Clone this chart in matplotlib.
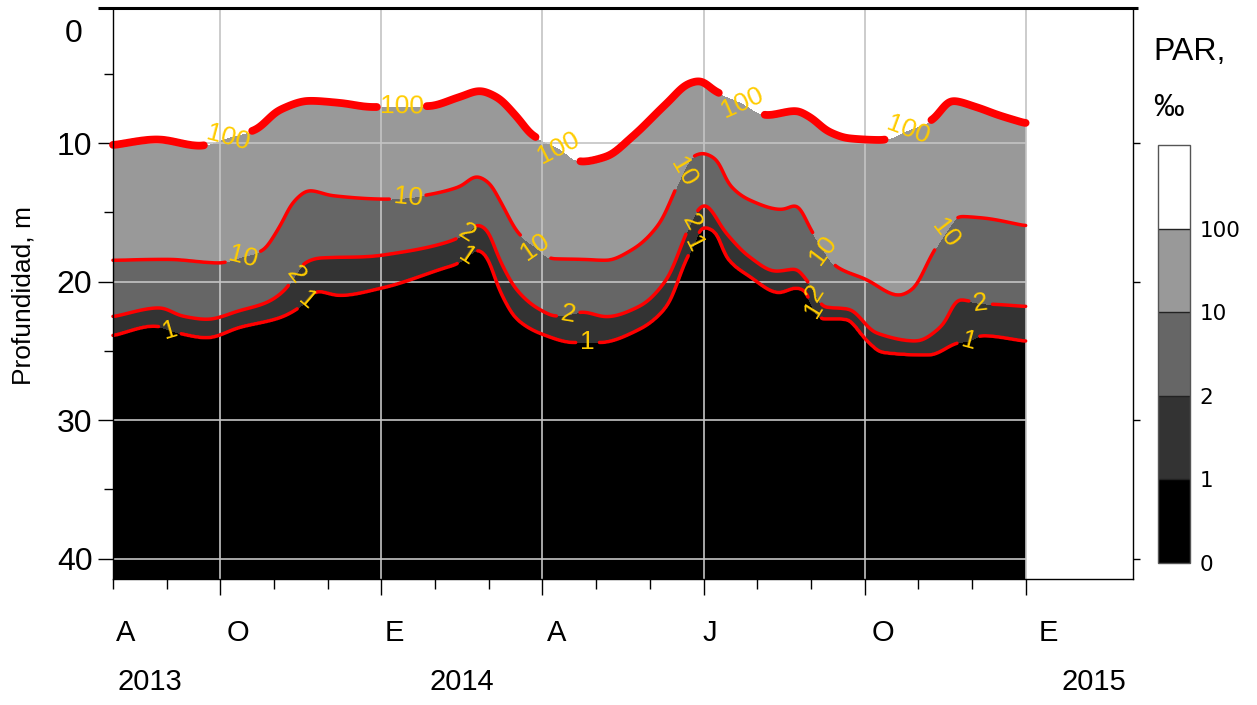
import numpy as np
import matplotlib
matplotlib.use("Agg")
import matplotlib.pyplot as plt

plt.rcParams["font.family"] = ["Liberation Sans", "DejaVu Sans"]

# Depth (m) of the relative-PAR isolines; time in months since 1 Aug 2013
iso100_t = [0.0, 0.82, 1.62, 2.14, 2.64, 3.11, 3.66, 4.22, 4.84, 5.38, 5.86, 6.46,
            6.83, 7.14, 7.52, 7.81, 8.30, 8.72, 9.19, 9.67, 10.31, 10.73, 10.92,
            11.24, 11.72, 12.17, 12.72, 12.97, 13.34, 13.71, 14.32, 14.81, 15.25,
            15.63, 16.07, 16.50, 17.0]
iso100_z = [10.15, 9.74, 10.2, 9.6, 9.06, 7.6, 6.95, 7.1, 7.4, 7.35, 7.34, 6.67,
            6.24, 6.67, 8.1, 9.42, 10.35, 11.35, 10.98, 9.55, 7.15, 5.7, 5.52,
            6.3, 7.1, 7.99, 7.68, 8.1, 9.19, 9.66, 9.78, 9.06, 8.35,
            6.95, 7.39, 7.99, 8.58]

iso10_t = [0.0, 1.00, 1.99, 2.42, 2.77, 3.11, 3.35, 3.66, 4.09, 5.10, 5.49, 5.86,
           6.46, 6.77, 7.01, 7.20, 7.57, 7.87, 8.17, 8.74, 9.19, 9.67, 10.18,
           10.45, 10.62, 10.79, 10.98, 11.24, 11.48, 11.85, 12.46, 12.72, 13.02,
           13.23, 13.43, 14.03, 14.64, 14.88, 15.29, 15.51, 15.76, 16.18, 17.0]
iso10_z = [18.47, 18.4, 18.66, 18.2, 17.8, 16.0, 14.3, 13.43, 13.8, 14.05, 13.95, 13.74,
           13.14, 12.42, 12.9, 14.1, 16.6, 17.5, 18.35, 18.4, 18.47, 17.7, 15.8,
           13.6, 12.1, 11.0, 10.74, 11.2, 13.0, 14.1, 14.8, 14.5, 16.4,
           17.7, 18.8, 19.86, 21.0, 20.6, 17.8, 16.5, 15.3, 15.4, 15.97]

iso2_t = [0.0, 0.87, 1.30, 1.75, 2.36, 2.87, 3.24, 3.40, 3.57, 3.85, 4.73, 5.34,
          6.27, 6.59, 6.79, 6.96, 7.20, 7.52, 7.94, 8.26, 8.48, 8.74, 9.19, 9.80,
          10.31, 10.68, 10.77, 10.92, 11.01, 11.42, 11.85, 12.35, 12.72, 12.91,
          13.08, 13.21, 13.71, 14.21, 14.96, 15.44, 15.76, 15.94, 16.16, 16.44, 17.0]
iso2_z = [22.54, 21.9, 22.5, 22.73, 22.1, 21.5, 20.45, 19.5, 18.66, 18.3, 18.2, 17.9,
          17.1, 16.5, 15.9, 16.26, 18.4, 20.6, 22.0, 22.5, 22.4, 22.2, 22.54, 21.8,
          19.86, 16.5, 15.7, 14.7, 14.46, 16.5, 18.2, 19.26, 19.1, 19.86,
          20.8, 21.8, 22.0, 23.7, 24.3, 23.2, 21.3, 21.4, 21.6, 21.65, 21.8]

iso1_t = [0.0, 0.78, 1.06, 1.25, 1.75, 2.36, 3.11, 3.42, 3.61, 3.80, 4.22, 5.02,
          6.27, 6.36, 6.60, 6.79, 6.96, 7.20, 7.52, 8.00, 8.59, 8.84, 9.06, 9.80,
          10.31, 10.70, 10.83, 10.92, 11.01, 11.24, 11.42, 11.85, 12.41, 12.72,
          12.91, 13.04, 13.21, 13.65, 14.03, 14.32, 15.20, 15.76, 15.94, 16.18, 17.0]
iso1_z = [23.9, 23.2, 23.5, 23.74, 24.05, 23.3, 22.6, 22.0, 21.4, 20.7, 21.0, 20.45,
          18.9, 18.8, 18.2, 17.7, 18.2, 20.6, 22.7, 23.8, 24.4, 24.4, 24.4, 23.45,
          21.8, 18.2, 17.3, 16.26, 16.07, 16.5, 18.2, 19.6, 20.8, 20.45,
          20.7, 22.0, 22.7, 22.7, 24.2, 25.1, 25.3, 24.4, 24.3, 23.9, 24.3]

# PAR levels (per mille) and their fill colours
levels = [0, 1, 2, 10, 100, 1000]
fill_colors = ["#000000", "#333333", "#666666", "#999999", "#ffffff"]

# Contour-label anchor points (month, depth) for each isoline
lab100 = [(2.14, 9.6), (5.38, 7.35), (8.30, 10.35), (11.72, 7.1), (14.81, 9.06)]
lab10 = [(2.42, 18.2), (5.49, 13.95), (7.87, 17.5), (10.62, 12.1), (13.23, 17.7), (15.51, 16.5)]
lab2 = [(3.40, 19.5), (6.59, 16.5), (8.48, 22.4), (10.77, 15.7), (13.08, 20.8), (16.16, 21.6)]
lab1 = [(1.06, 23.5), (3.61, 21.4), (6.60, 18.2), (8.84, 24.4), (10.83, 17.3), (13.04, 22.0), (15.94, 24.3)]

month_names = ["A", "O", "E", "A", "J", "O", "E"]
month_pos = [0.24, 2.33, 5.25, 8.26, 11.12, 14.34, 17.43]
year_names = ["2013", "2014", "2015"]
year_pos = [0.69, 6.49, 18.27]

# ---- build the PAR field on a regular time/depth grid ----
t = np.linspace(0, 17, 1361)
z = np.linspace(0, 42, 841)


def pchip(x, y, xn):
    """Monotone piecewise-cubic Hermite curve through (x, y)."""
    x = np.asarray(x, float)
    y = np.asarray(y, float)
    h = np.diff(x)
    d = np.diff(y) / h
    m = np.zeros_like(y)
    for i in range(1, len(y) - 1):
        if d[i - 1] * d[i] > 0:
            w1 = 2 * h[i] + h[i - 1]
            w2 = h[i] + 2 * h[i - 1]
            m[i] = (w1 + w2) / (w1 / d[i - 1] + w2 / d[i])
    m[0], m[-1] = d[0], d[-1]
    idx = np.clip(np.searchsorted(x, xn) - 1, 0, len(h) - 1)
    s = (xn - x[idx]) / h[idx]
    h00 = 2 * s**3 - 3 * s**2 + 1
    h10 = s**3 - 2 * s**2 + s
    h01 = -2 * s**3 + 3 * s**2
    h11 = s**3 - s**2
    return (h00 * y[idx] + h10 * h[idx] * m[idx]
            + h01 * y[idx + 1] + h11 * h[idx] * m[idx + 1])


def track(tt, zz):
    d = pchip(tt, zz, t)
    k = np.ones(11) / 11
    for _ in range(2):
        d = np.convolve(np.pad(d, 5, mode="edge"), k, mode="valid")
    return d


d100 = track(iso100_t, iso100_z)
d10 = track(iso10_t, iso10_z)
d2 = track(iso2_t, iso2_z)
d1 = track(iso1_t, iso1_z)

logpar = np.empty((z.size, t.size))
for j in range(t.size):
    logpar[:, j] = np.interp(z, [0.0, d100[j], d10[j], d2[j], d1[j], 42.0],
                             [2.9, 2.0, 1.0, np.log10(2.0), 0.0, -1.0])
par = 10 ** logpar
T, Z = np.meshgrid(t, z)

# ---- figure ----
W, H = 1257, 705
fig = plt.figure(figsize=(W / 100, H / 100), dpi=100)
ax = fig.add_axes([113 / W, 1 - 579.3 / H, 1020 / W, 571 / H])

cf = ax.contourf(T, Z, par, levels=levels, colors=fill_colors, zorder=1)

grid_c = "#c4c4c4"
ax.vlines([2, 5, 8, 11, 14, 17], 0.0, 41.5, color=grid_c, lw=1.2, zorder=2)
ax.hlines([10, 20, 30, 40], 0, 17, color=grid_c, lw=1.2, zorder=2)

gold = "#FFCC00"
for lev, lw, pts in [(100, 5.6, lab100), (10, 2.5, lab10), (2, 2.5, lab2), (1, 2.5, lab1)]:
    cs = ax.contour(T, Z, par, levels=[lev], colors="red", linewidths=lw, zorder=3)
    cs.set_capstyle("round")
    cs.set_joinstyle("round")
    cs.set_clip_on(False)
    ax.clabel(cs, manual=pts, inline=True, inline_spacing=6,
              fmt="%d", colors=gold, fontsize=19)

ax.set_xlim(0, 19)
ax.set_ylim(41.5, 0.27)

# axes frame
ax.spines["top"].set_visible(False)
for s in ("left", "right", "bottom"):
    ax.spines[s].set_linewidth(1.0)
    ax.spines[s].set_zorder(4)
ax.plot([-0.0147, 1.0049], [1, 1], transform=ax.transAxes, color="black",
        lw=2.2, clip_on=False, solid_capstyle="butt", zorder=6)

# x ticks: quarterly majors, monthly minors
ax.set_xticks([2, 5, 8, 11, 14, 17])
ax.set_xticks([0, 1, 3, 4, 6, 7, 9, 10, 12, 13, 15, 16], minor=True)
ax.tick_params(axis="x", which="major", length=11.5, width=1, labelbottom=False)
ax.tick_params(axis="x", which="minor", length=7, width=1)

# y ticks
ax.set_yticks([10, 20, 30, 40])
ax.set_yticks([5, 15, 25, 35], minor=True)
ax.tick_params(axis="y", which="major", length=10.8, width=1, labelsize=23, pad=4)
ax.tick_params(axis="y", which="minor", length=6.5, width=1)
fig.text(83 / W, 1 - 30 / H, "0", fontsize=23, ha="right", va="center_baseline")

ax2 = ax.twinx()
ax2.set_ylim(ax.get_ylim())
ax2.set_yticks([10, 20, 30, 40])
ax2.tick_params(axis="y", length=5, width=1, labelright=False)
for s in ax2.spines.values():
    s.set_visible(False)

xt = ax.get_xaxis_transform()
for name, pos in zip(month_names, month_pos):
    ax.text(pos, -0.094, name, transform=xt, ha="center", va="center", fontsize=21)
for name, pos in zip(year_names, year_pos):
    ax.text(pos, -0.18, name, transform=xt, ha="center", va="center", fontsize=21)

fig.text(24 / W, 1 - 296 / H, "Profundidad, m", rotation=90, fontsize=19,
         ha="center", va="center")

# colour bar
cax = fig.add_axes([1158 / W, 1 - 563 / H, 32 / W, 418 / H])
cb = fig.colorbar(cf, cax=cax, spacing="uniform", ticks=[0, 1, 2, 10, 100],
                  drawedges=True)
cb.ax.set_yticklabels(["0", "1", "2", "10", "100"])
cb.ax.tick_params(length=0, pad=7, labelsize=15.5)
for lbl in cb.ax.get_yticklabels():
    lbl.set_fontfamily("DejaVu Sans")
cb.outline.set_edgecolor("#555555")
cb.outline.set_linewidth(1.0)
cb.dividers.set_color("#222222")
cb.dividers.set_linewidth(1.0)

fig.text(1153 / W, 1 - 52 / H, "PAR,", fontsize=23, ha="left", va="center")
fig.text(1153 / W, 1 - 108 / H, "\u2030", fontsize=22, ha="left", va="center")

fig.savefig("out.png", dpi=100)
